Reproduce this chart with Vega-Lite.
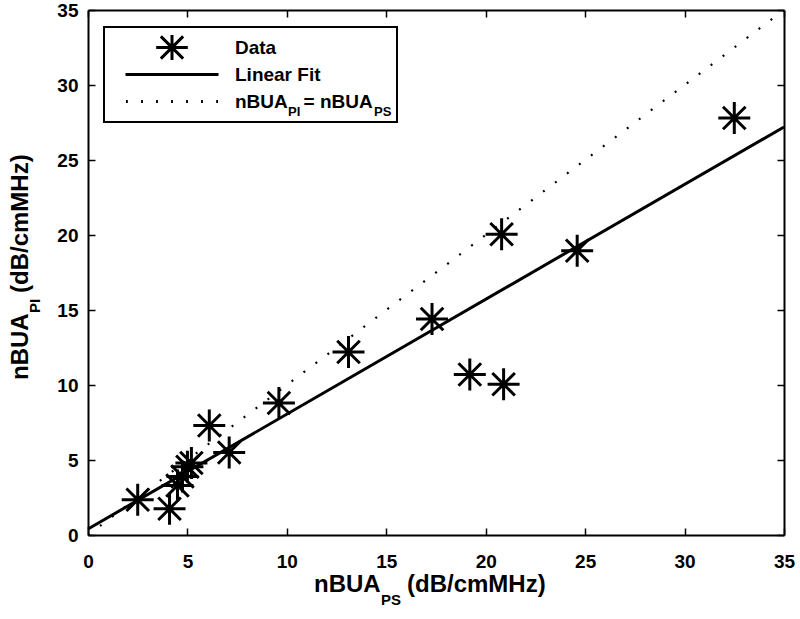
{
  "$schema": "https://vega.github.io/schema/vega-lite/v6.json",
  "autosize": "none",
  "padding": {"left": 88, "top": 10, "right": 16, "bottom": 84},
  "width": 696,
  "height": 525,
  "background": "white",
  "config": {"view": {"stroke": null}, "font": "Liberation Sans", "legend": {"strokeWidth": 2}},
  "datasets": {
    "points": [
      {"nBUA_PS": 2.5, "nBUA_PI": 2.35, "series": "Data"},
      {"nBUA_PS": 4.1, "nBUA_PI": 1.75, "series": "Data"},
      {"nBUA_PS": 4.5, "nBUA_PI": 3.3, "series": "Data"},
      {"nBUA_PS": 4.75, "nBUA_PI": 3.9, "series": "Data"},
      {"nBUA_PS": 5.0, "nBUA_PI": 4.55, "series": "Data"},
      {"nBUA_PS": 5.2, "nBUA_PI": 4.8, "series": "Data"},
      {"nBUA_PS": 6.1, "nBUA_PI": 7.3, "series": "Data"},
      {"nBUA_PS": 7.1, "nBUA_PI": 5.5, "series": "Data"},
      {"nBUA_PS": 9.6, "nBUA_PI": 8.8, "series": "Data"},
      {"nBUA_PS": 13.1, "nBUA_PI": 12.2, "series": "Data"},
      {"nBUA_PS": 17.3, "nBUA_PI": 14.4, "series": "Data"},
      {"nBUA_PS": 19.2, "nBUA_PI": 10.7, "series": "Data"},
      {"nBUA_PS": 20.8, "nBUA_PI": 20.05, "series": "Data"},
      {"nBUA_PS": 20.9, "nBUA_PI": 10.05, "series": "Data"},
      {"nBUA_PS": 24.6, "nBUA_PI": 18.95, "series": "Data"},
      {"nBUA_PS": 32.5, "nBUA_PI": 27.8, "series": "Data"}
    ],
    "fit": [
      {"nBUA_PS": 0, "nBUA_PI": 0.4},
      {"nBUA_PS": 35, "nBUA_PI": 27.2}
    ],
    "identity": [
      {"nBUA_PS": 0, "nBUA_PI": 0},
      {"nBUA_PS": 35, "nBUA_PI": 35}
    ]
  },
  "layer": [
    {
      "data": {"name": "points"},
      "mark": {"type": "point", "filled": false, "stroke": "black", "strokeWidth": 3, "size": 8850, "opacity": 1},
      "encoding": {
        "x": {
          "field": "nBUA_PS", "type": "quantitative",
          "scale": {"domain": [0, 35], "nice": false, "zero": false},
          "axis": {"orient": "bottom", "title": null, "values": [0, 5, 10, 15, 20, 25, 30, 35], "grid": false,
            "tickSize": -7, "tickWidth": 1.5, "tickColor": "black", "domainColor": "black", "domainWidth": 2,
            "labelFont": "Liberation Sans", "labelFontSize": 19, "labelFontWeight": "bold", "labelColor": "black",
            "labelPadding": 24, "labelFlush": false, "labelOverlap": false}
        },
        "y": {
          "field": "nBUA_PI", "type": "quantitative",
          "scale": {"domain": [0, 35], "nice": false, "zero": false},
          "axis": {"orient": "left", "title": null, "values": [0, 5, 10, 15, 20, 25, 30, 35], "grid": false,
            "tickSize": -7, "tickWidth": 1.5, "tickColor": "black", "domainColor": "black", "domainWidth": 2,
            "labelFont": "Liberation Sans", "labelFontSize": 19, "labelFontWeight": "bold", "labelColor": "black",
            "labelPadding": 17, "labelFlush": false, "labelOverlap": false}
        },
        "shape": {
          "field": "series", "type": "nominal",
          "scale": {
            "domain": ["Data", "Linear Fit", "nBUA_PI = nBUA_PS"],
            "range": [
              "M-0.34,0L0.34,0M0,-0.34L0,0.34M-0.24,-0.24L0.24,0.24M-0.24,0.24L0.24,-0.24",
              "M-1,0L1,0",
              "M-0.99,0L-0.95,0M-0.665,0L-0.625,0M-0.343,0L-0.303,0M-0.02,0L0.02,0M0.303,0L0.343,0M0.625,0L0.665,0M0.95,0L0.99,0"
            ]
          },
          "legend": {
            "title": null, "orient": "none", "legendX": 16, "legendY": 17,
            "padding": 8, "strokeColor": "black", "fillColor": null,
            "symbolSize": 8649, "symbolStrokeColor": "black", "symbolStrokeWidth": 3, "symbolFillColor": "transparent",
            "symbolOffset": 12, "labelOffset": 15, "clipHeight": 25, "rowPadding": 2,
            "labelFont": "Liberation Sans", "labelFontSize": 19, "labelFontWeight": "bold", "labelColor": "black", "labelLimit": 400,
            "labelExpr": "datum.label == 'nBUA_PI = nBUA_PS' ? 'nBUA\u00a0\u00a0\u00a0=\u00a0nBUA\u00a0\u00a0\u00a0\u200b' : datum.label"
          }
        }
      }
    },
    {
      "data": {"name": "fit"},
      "mark": {"type": "line", "color": "black", "strokeWidth": 3},
      "encoding": {
        "x": {"field": "nBUA_PS", "type": "quantitative",
          "axis": {"orient": "top", "title": null, "labels": false, "values": [0, 5, 10, 15, 20, 25, 30, 35], "grid": false,
            "tickSize": -7, "tickWidth": 1.5, "tickColor": "black", "domainColor": "black", "domainWidth": 2}},
        "y": {"field": "nBUA_PI", "type": "quantitative",
          "axis": {"orient": "right", "title": null, "labels": false, "values": [0, 5, 10, 15, 20, 25, 30, 35], "grid": false,
            "tickSize": -7, "tickWidth": 1.5, "tickColor": "black", "domainColor": "black", "domainWidth": 2}}
      }
    },
    {
      "data": {"name": "identity"},
      "mark": {"type": "line", "color": "black", "strokeWidth": 2.2, "strokeDash": [2, 13], "clip": true},
      "encoding": {
        "x": {"field": "nBUA_PS", "type": "quantitative", "axis": null},
        "y": {"field": "nBUA_PI", "type": "quantitative", "axis": null}
      }
    },
    {
      "data": {"values": [{}]},
      "layer": [
        {"mark": {"type": "text", "text": "nBUA", "align": "left", "baseline": "alphabetic", "fontSize": 24, "fontWeight": "bold", "color": "black"}},
        {"mark": {"type": "text", "text": "PS", "align": "left", "baseline": "alphabetic", "fontSize": 15, "fontWeight": "bold", "color": "black", "dx": 67, "dy": 13}},
        {"mark": {"type": "text", "text": "(dB/cmMHz)", "align": "left", "baseline": "alphabetic", "fontSize": 24, "fontWeight": "bold", "color": "black", "dx": 93}}
      ],
      "encoding": {
        "x": {"datum": 11.366, "type": "quantitative", "axis": null},
        "y": {"datum": -3.8, "type": "quantitative", "axis": null}
      }
    },
    {
      "data": {"values": [{}]},
      "layer": [
        {"mark": {"type": "text", "text": "nBUA", "align": "left", "baseline": "alphabetic", "angle": 270, "fontSize": 24, "fontWeight": "bold", "color": "black"}},
        {"mark": {"type": "text", "text": "PI", "align": "left", "baseline": "alphabetic", "angle": 270, "fontSize": 15, "fontWeight": "bold", "color": "black", "dx": 67, "dy": 12}},
        {"mark": {"type": "text", "text": "(dB/cmMHz)", "align": "left", "baseline": "alphabetic", "angle": 270, "fontSize": 24, "fontWeight": "bold", "color": "black", "dx": 87}}
      ],
      "encoding": {
        "x": {"datum": -3.018, "type": "quantitative", "axis": null},
        "y": {"datum": 10.333, "type": "quantitative", "axis": null}
      }
    },
    {
      "data": {"values": [{}]},
      "layer": [
        {"mark": {"type": "text", "text": "PI", "align": "left", "baseline": "alphabetic", "fontSize": 13, "fontWeight": "bold", "color": "black"}},
        {"mark": {"type": "text", "text": "PS", "align": "left", "baseline": "alphabetic", "fontSize": 13, "fontWeight": "bold", "color": "black", "dx": 86}}
      ],
      "encoding": {
        "x": {"datum": 10.057, "type": "quantitative", "axis": null},
        "y": {"datum": 27.93, "type": "quantitative", "axis": null}
      }
    }
  ],
  "resolve": {"axis": {"x": "independent", "y": "independent"}}
}
